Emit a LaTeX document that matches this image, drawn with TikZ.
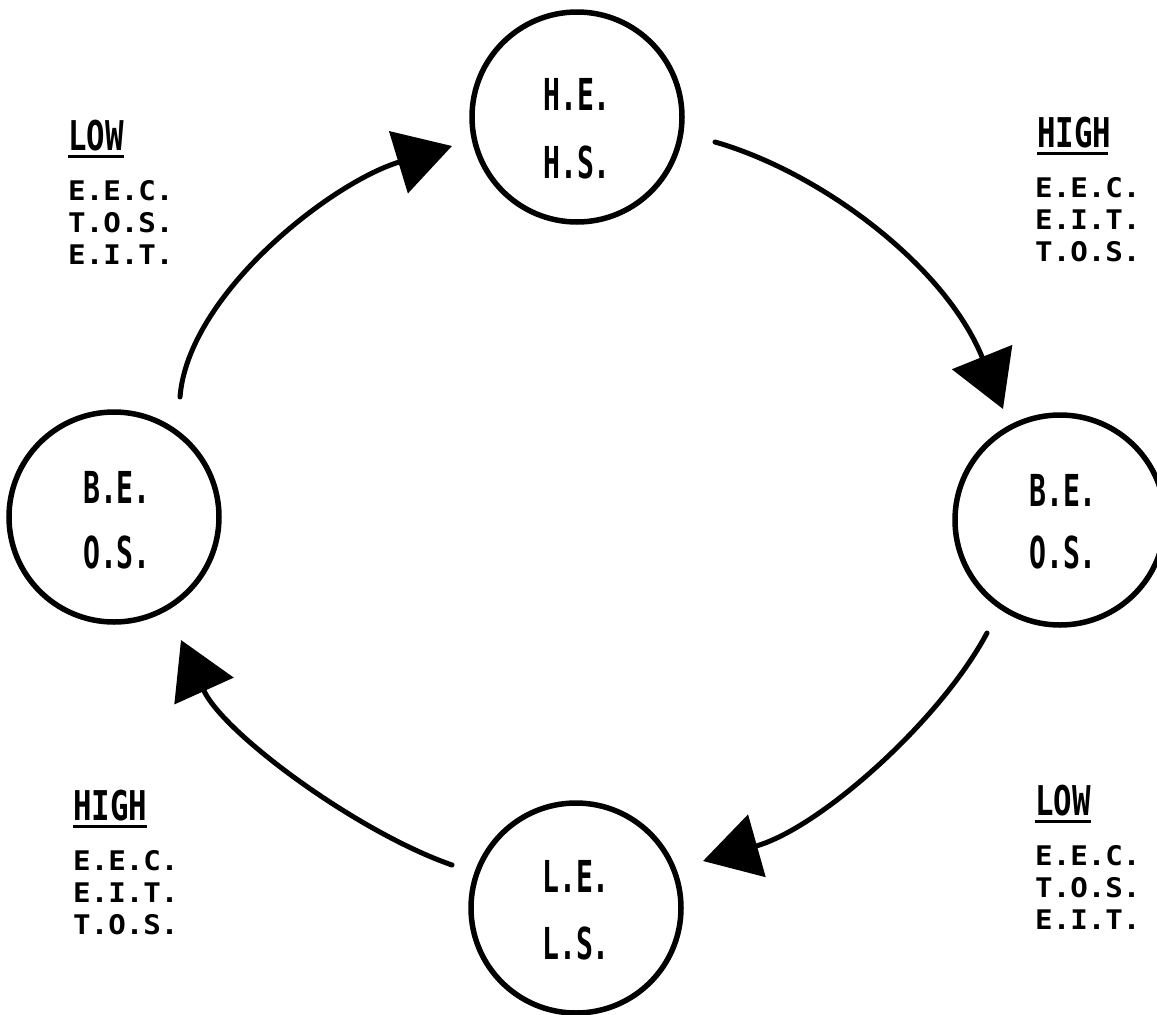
\documentclass[tikz,border=0pt]{standalone}
\usepackage{fontspec}
\usepackage{graphicx}
\newfontfamily\typefam{DejaVu Sans Mono}
\usetikzlibrary{arrows.meta}

% tall, narrow typewriter lettering
\newcommand\circlabel[1]{\scalebox{0.64}[1]{\fontsize{44}{44}\selectfont\bfseries #1}}
\newcommand\headlabel[1]{\scalebox{0.75}[1]{\fontsize{41}{41}\selectfont\bfseries #1}}
\newcommand\factorlist[1]{\scalebox{1.08}[1]{\begin{tabular}{@{}l@{}}#1\end{tabular}}}

\tikzset{
  stage/.style={circle, draw, line width=5.5pt, minimum size=210pt, inner sep=0pt},
  stagetext/.style={inner sep=0pt, font=\typefam},
  head/.style={inner sep=0pt, anchor=north west, font=\typefam},
  headline/.style={line width=3.5pt},
  factors/.style={inner sep=0pt, anchor=north west,
    font=\typefam\bfseries\fontsize{27}{32}\selectfont},
  flow/.style={line width=5pt, line cap=round,
    -{Triangle[length=56pt,width=64pt]}},
}

\begin{document}
\begin{tikzpicture}[x=1pt, y=-1pt]
\useasboundingbox (0,0) rectangle (1157,1015);

% the four stages
\node[stage] (top)    at (577,117) {};
\node[stage] (left)   at (114,517) {};
\node[stage] (right)  at (1060,520) {};
\node[stage] (bottom) at (576,908) {};

\node[stagetext] (topA)    at (577,94)  {\circlabel{H.E.}};
\node[stagetext] (topB)    at (577,162) {\circlabel{H.S.}};
\node[stagetext] (leftA)   at (117,487) {\circlabel{B.E.}};
\node[stagetext] (leftB)   at (117,552) {\circlabel{O.S.}};
\node[stagetext] (rightA)  at (1063,490) {\circlabel{B.E.}};
\node[stagetext] (rightB)  at (1063,552) {\circlabel{O.S.}};
\node[stagetext] (bottomA) at (576,876) {\circlabel{L.E.}};
\node[stagetext] (bottomB) at (576,943) {\circlabel{L.S.}};

% transitions between the stages
\coordinate (s1) at (180,397);  \coordinate (e1) at (452,146);
\coordinate (s2) at (715,142);  \coordinate (e2) at (1003,409);
\coordinate (s3) at (987,633);  \coordinate (e3) at (703,861);
\coordinate (s4) at (452,865);  \coordinate (e4) at (181,640);

\draw[flow] (s1) .. controls (188,295) and (330,183) .. (e1);
\draw[flow] (s2) .. controls (820,172) and (945,265) .. (e2);
\draw[flow] (s3) .. controls (940,721) and (820,828) .. (e3);
\draw[flow] (s4) .. controls (357,832) and (223,733) .. (e4);

% factor levels beside each transition
\node[head] (tlH) at (68,120) {\headlabel{LOW}};
\draw[headline] (tlH.south west) ++(0,5) -- ++(56,0);
\node[factors] (tlF) at (68,178) {\factorlist{E.E.C.\\T.O.S.\\E.I.T.}};

\node[head] (trH) at (1037,117) {\headlabel{HIGH}};
\draw[headline] (trH.south west) ++(0,5) -- ++(71,0);
\node[factors] (trF) at (1035,175) {\factorlist{E.E.C.\\E.I.T.\\T.O.S.}};

\node[head] (blH) at (73,790) {\headlabel{HIGH}};
\draw[headline] (blH.south west) ++(0,5) -- ++(74,0);
\node[factors] (blF) at (73,848) {\factorlist{E.E.C.\\E.I.T.\\T.O.S.}};

\node[head] (brH) at (1035,785) {\headlabel{LOW}};
\draw[headline] (brH.south west) ++(0,5) -- ++(56,0);
\node[factors] (brF) at (1035,843) {\factorlist{E.E.C.\\T.O.S.\\E.I.T.}};
\end{tikzpicture}
\end{document}
